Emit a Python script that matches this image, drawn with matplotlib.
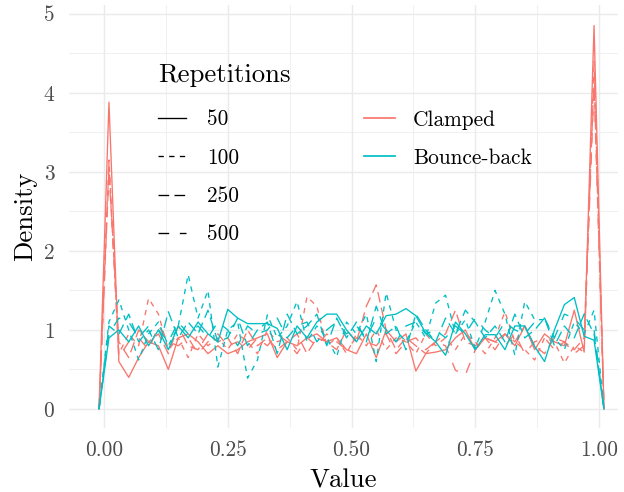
#!/usr/bin/env python3
"""
Frequency polygons: clamped vs bounce-back, by number of repetitions
"""

import numpy as np
import matplotlib
matplotlib.use("Agg")
import matplotlib.pyplot as plt
from matplotlib.lines import Line2D
from matplotlib.ticker import MultipleLocator

plt.rcParams['font.family'] = ['cmr10', 'DejaVu Serif']
plt.rcParams['axes.formatter.use_mathtext'] = True
plt.rcParams['lines.scale_dashes'] = False

# bin centres of the histogram (bin width 0.02)
bins = np.round(np.arange(0.01, 1.0, 0.02), 2)
bin_width = 0.02

methods = ['Clamped', 'Bounce-back']
repetitions = ['50', '100', '250', '500']

clamped_50 = [3.88, 0.60, 0.40, 0.65, 0.85, 0.80, 0.50, 0.90, 0.95, 0.85,
              0.70, 0.80, 0.70, 0.75, 0.85, 0.90, 0.95, 0.65, 0.85, 0.80,
              0.90, 0.95, 0.85, 0.90, 0.75, 0.70, 0.95, 0.65, 1.00, 0.85,
              0.95, 0.48, 0.70, 0.72, 0.75, 0.90, 1.00, 0.75, 0.90, 0.85,
              0.95, 0.80, 1.05, 0.75, 0.95, 0.85, 0.80, 1.25, 0.72, 4.85]
clamped_100 = [3.15, 0.70, 0.95, 0.80, 1.40, 1.20, 0.75, 0.90, 0.65, 0.95,
               0.80, 0.90, 0.75, 0.95, 0.85, 0.70, 1.00, 0.85, 0.90, 0.75,
               1.42, 1.30, 0.80, 0.90, 0.70, 0.95, 0.80, 1.00, 0.75, 0.90,
               0.85, 0.70, 0.95, 0.80, 0.90, 0.75, 0.95, 0.85, 0.70, 0.90,
               1.23, 0.85, 0.75, 0.62, 0.90, 0.85, 0.58, 0.80, 0.72, 4.40]
clamped_250 = [3.00, 0.85, 0.65, 1.00, 0.85, 0.95, 0.70, 1.05, 0.80, 0.75,
               0.95, 0.85, 0.90, 0.70, 1.00, 0.80, 0.90, 0.75, 0.85, 0.95,
               0.70, 0.90, 0.85, 0.75, 1.00, 0.85, 1.30, 1.57, 1.00, 0.75,
               0.90, 0.80, 0.70, 0.85, 0.95, 1.25, 0.85, 0.80, 0.90, 0.75,
               0.95, 0.85, 1.05, 0.80, 0.70, 0.90, 0.85, 0.75, 0.90, 4.20]
clamped_500 = [3.10, 0.65, 0.85, 0.90, 0.75, 1.05, 0.85, 0.80, 0.90, 0.70,
               0.85, 0.95, 0.80, 0.85, 0.75, 0.90, 0.80, 0.95, 0.85, 0.70,
               0.90, 0.80, 0.95, 0.85, 0.75, 0.90, 0.85, 0.80, 0.95, 0.70,
               0.85, 0.90, 0.75, 0.85, 0.80, 0.49, 0.43, 0.75, 0.90, 0.85,
               0.80, 0.95, 0.70, 0.85, 0.90, 0.75, 0.85, 0.70, 0.80, 4.10]

bounce_50 = [0.90, 1.00, 0.85, 1.05, 0.80, 1.00, 0.75, 1.05, 0.90, 1.10,
             0.95, 0.85, 1.26, 1.15, 1.08, 1.08, 1.08, 1.02, 0.75, 1.05,
             0.90, 1.10, 1.20, 1.20, 1.00, 0.85, 1.05, 0.95, 1.18, 1.20,
             1.27, 1.18, 0.96, 0.85, 0.68, 1.10, 0.95, 0.75, 0.94, 0.94,
             0.75, 1.05, 1.05, 0.79, 0.60, 1.00, 1.32, 1.41, 0.92, 0.87]
bounce_100 = [1.10, 1.38, 1.00, 0.62, 0.95, 1.10, 0.80, 1.05, 1.70, 1.15,
              1.50, 0.53, 1.00, 1.10, 0.39, 0.62, 1.19, 0.90, 1.05, 1.36,
              0.85, 1.05, 0.90, 0.66, 1.10, 0.95, 1.20, 0.60, 1.47, 1.00,
              0.85, 1.10, 0.90, 1.34, 1.44, 0.95, 1.13, 0.77, 1.10, 1.50,
              1.20, 0.68, 1.36, 1.13, 1.13, 0.90, 0.75, 1.10, 0.95, 1.25]
bounce_250 = [1.05, 0.95, 1.20, 0.85, 1.00, 0.75, 1.23, 0.90, 1.10, 0.95,
              1.25, 0.85, 0.90, 1.15, 0.80, 1.00, 1.10, 0.70, 1.20, 0.95,
              1.05, 1.20, 0.80, 1.15, 0.90, 1.10, 0.85, 1.30, 0.95, 1.05,
              0.75, 1.20, 1.00, 0.85, 1.15, 0.95, 1.25, 1.10, 0.90, 1.05,
              0.85, 1.20, 0.90, 1.00, 1.15, 0.80, 1.05, 0.90, 1.20, 0.95]
bounce_500 = [0.95, 1.15, 1.10, 0.90, 1.05, 1.00, 0.85, 1.10, 0.95, 1.05,
              0.90, 1.10, 1.00, 0.80, 1.05, 0.95, 1.00, 1.15, 0.90, 1.05,
              1.10, 0.85, 1.00, 1.10, 0.95, 1.05, 0.90, 1.15, 1.00, 0.85,
              1.05, 1.10, 0.95, 1.00, 0.90, 1.05, 0.95, 1.15, 1.00, 0.90,
              1.10, 1.00, 0.95, 1.10, 1.15, 0.90, 1.20, 1.15, 1.00, 1.00]

densities = {
    'Clamped': [clamped_50, clamped_100, clamped_250, clamped_500],
    'Bounce-back': [bounce_50, bounce_100, bounce_250, bounce_500],
}

colors = {'Clamped': '#F8766D', 'Bounce-back': '#00BFC4'}
# ggplot linetypes "solid", "22", "42", "44"
dashes = ['-', (0, (4.0, 4.0)), (0, (8.0, 4.0)), (0, (8.0, 8.0))]


def freqpoly(values):
    """pad the polygon with an empty bin on both sides, like geom_freqpoly"""
    x = np.concatenate([[bins[0] - bin_width], bins, [bins[-1] + bin_width]])
    y = np.concatenate([[0.0], values, [0.0]])
    return x, y


fig = plt.figure(figsize=(6.5, 5.125), dpi=96)
W, H = 624, 492
left, right, top, bottom = 69, 618, 5, 428
ax = fig.add_axes([left / W, 1 - bottom / H, (right - left) / W, (bottom - top) / H])

for method in methods:
    for idx, series in enumerate(densities[method]):
        x, y = freqpoly(series)
        ax.plot(x, y, color=colors[method], linestyle=dashes[idx], lw=1.0)

# axis limits so that 0 -> px 104, 1 -> px 599 ; y 0 -> px 409
px_per_x = 495.0
ax.set_xlim((left - 104) / px_per_x, (right - 104) / px_per_x)
px_per_y = 79.06
ax.set_ylim((409 - bottom) / px_per_y, (409 - top) / px_per_y)

for side in ax.spines.values():
    side.set_visible(False)
ax.xaxis.set_major_locator(MultipleLocator(0.25))
ax.xaxis.set_minor_locator(MultipleLocator(0.125))
ax.yaxis.set_major_locator(MultipleLocator(1))
ax.yaxis.set_minor_locator(MultipleLocator(0.5))
ax.set_xticks([0, 0.25, 0.5, 0.75, 1.0], ['0.00', '0.25', '0.50', '0.75', '1.00'])
ax.set_yticks([0, 1, 2, 3, 4, 5], ['0', '1', '2', '3', '4', '5'])
ax.grid(which='major', color='#EBEBEB', lw=1.1)
ax.grid(which='minor', color='#EBEBEB', lw=0.55)
ax.set_axisbelow(True)
ax.tick_params(which='both', length=0, labelsize=16, labelcolor='#4D4D4D')
ax.tick_params(axis='x', pad=9)
ax.tick_params(axis='y', pad=11)
ax.set_xlabel('Value', fontsize=20, labelpad=7)
ax.set_ylabel('Density', fontsize=20, labelpad=5)

rep_handles = [Line2D([], [], color='black', lw=1.0, linestyle=d) for d in dashes]
leg1 = ax.legend(rep_handles, repetitions, title='Repetitions', loc='upper left',
                 bbox_to_anchor=(158 / W, 1 - 63 / H), bbox_transform=fig.transFigure,
                 frameon=False, fontsize=16, title_fontsize=20, handlelength=1.3,
                 handletextpad=1.0, labelspacing=0.88, borderpad=0, borderaxespad=0,
                 alignment='left')
# extra room between the legend title and the first key
leg1._legend_box.sep = 17.4
ax.add_artist(leg1)

col_handles = [Line2D([], [], color=colors[m], lw=1.3) for m in methods]
ax.legend(col_handles, methods, loc='upper left',
          bbox_to_anchor=(364 / W, 1 - 110 / H), bbox_transform=fig.transFigure,
          frameon=False, fontsize=16, handlelength=1.45, handletextpad=0.85,
          labelspacing=0.88, borderpad=0, borderaxespad=0)

fig.savefig('out.png', dpi=96)
